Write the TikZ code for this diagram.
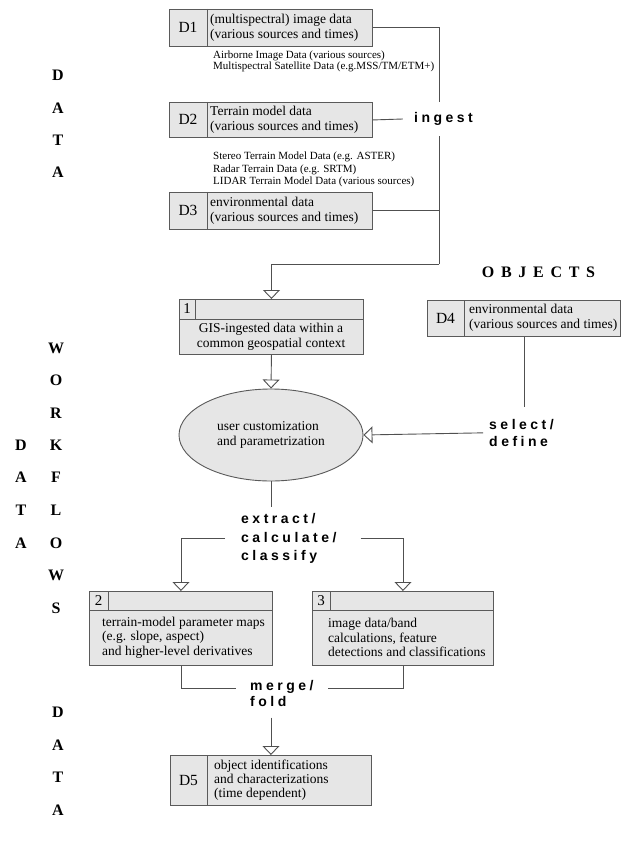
\documentclass[tikz,border=0pt]{standalone}
\usepackage{fontspec}
\setmainfont{Liberation Serif}
\newfontfamily\lsans{Liberation Sans}
\usetikzlibrary{arrows.meta,shapes.geometric}
\definecolor{linec}{HTML}{505050}
\definecolor{boxc}{HTML}{5A5A5A}
\definecolor{boxf}{HTML}{E6E6E6}
\makeatletter
\newcommand\spc[2][3.5pt]{\@tfor\spc@c:=#2\do{\spc@c\kern#1}\unkern}
\makeatother
\newcommand\fs[2]{\fontsize{#1}{#2}\selectfont}
\begin{document}
\begin{tikzpicture}[x=1pt,y=-1pt,
  ln/.style={draw=linec, line width=0.9pt},
  arr/.style={-{Triangle[width=17pt,length=9pt,fill=white]}},
  box/.style={draw=boxc, fill=boxf, line width=0.9pt, inner sep=0pt, anchor=north west},
  divl/.style={draw=boxc, line width=0.9pt},
  dl/.style={font=\fs{15.5}{18}, inner sep=0pt},
  num/.style={font=\fs{15}{18}, inner sep=0pt},
  bt/.style={font=\fs{13.5}{15}, align=left, anchor=west, inner sep=1pt},
  st/.style={font=\fs{11}{11}, align=left, anchor=west, inner sep=1pt},
  lab/.style={font=\lsans\bfseries\fs{14}{17}, align=left},
  big/.style={font=\bfseries\fs{16}{18}, inner sep=0pt}]
\useasboundingbox (0,0) rectangle (628,842);

% ---------- top DATA boxes ----------
\node[box, minimum width=203pt, minimum height=37pt] (d1) at (169,9) {};
\draw[divl] (d1.north west) ++(38,0) -- ++(0,37);
\node[dl] (d1l) at (188,27.5) {D1};
\node[bt] (d1t) at (209,27.5) {(multispectral) image data\\(various sources and times)};
\node[st] (d1s) at (212,61.5) {Airborne Image Data (various sources)\\Multispectral Satellite Data (e.g.MSS/TM/ETM+)};

\node[box, minimum width=203pt, minimum height=35pt] (d2) at (169,102) {};
\draw[divl] (d2.north west) ++(38,0) -- ++(0,35);
\node[dl] (d2l) at (188,119.5) {D2};
\node[bt] (d2t) at (209,119.5) {Terrain model data\\(various sources and times)};
\node[st, font=\fs{11}{12.5}] (d2s) at (212,169.5) {Stereo Terrain Model Data (e.g. ASTER)\\Radar Terrain Data (e.g. SRTM)\\LIDAR Terrain Model Data (various sources)};

\node[box, minimum width=203pt, minimum height=37pt] (d3) at (169,192) {};
\draw[divl] (d3.north west) ++(38,0) -- ++(0,37);
\node[dl] (d3l) at (188,210.5) {D3};
\node[bt] (d3t) at (209,210.5) {environmental data\\(various sources and times)};

% ---------- box 1 ----------
\node[box, minimum width=184pt, minimum height=55pt] (b1) at (179,299) {};
\draw[divl] (b1.north west) ++(0,20) -- ++(184,0);
\draw[divl] (b1.north west) ++(16,0) -- ++(0,20);
\node[num] (b1n) at (187,309) {1};
\node[font=\fs{13.5}{15}, align=center, inner sep=0pt] (b1t) at (271,336.5) {GIS-ingested data within a\\common geospatial context};

% ---------- D4 ----------
\node[big, font=\bfseries\fs{16}{18}] (obj) at (538.5,272) {\spc[6.7pt]{OBJECTS}};
\node[box, minimum width=193pt, minimum height=36pt] (d4) at (427,300) {};
\draw[divl] (d4.north west) ++(37,0) -- ++(0,36);
\node[dl] (d4l) at (445.5,318) {D4};
\node[bt] (d4t) at (468,318) {environmental data\\(various sources and times)};

% ---------- ellipse ----------
\node[ellipse, draw=boxc, fill=boxf, line width=0.9pt, minimum width=184pt, minimum height=92pt, inner sep=0pt,
      font=\fs{13.5}{15}, align=left] (el) at (271,435) {user customization\\and parametrization};

% ---------- boxes 2 and 3 ----------
\node[box, minimum width=183pt, minimum height=74pt] (b2) at (89,591) {};
\draw[divl] (b2.north west) ++(0,19) -- ++(183,0);
\draw[divl] (b2.north west) ++(19,0) -- ++(0,19);
\node[num] (b2n) at (98.5,600.5) {2};
\node[bt, font=\fs{13.5}{14.5}] (b2t) at (101,637.5) {terrain-model parameter maps\\(e.g. slope, aspect)\\and higher-level derivatives};

\node[box, minimum width=181pt, minimum height=74pt] (b3) at (312,591) {};
\draw[divl] (b3.north west) ++(0,19) -- ++(181,0);
\draw[divl] (b3.north west) ++(18,0) -- ++(0,19);
\node[num] (b3n) at (321,600.5) {3};
\node[bt, font=\fs{13.5}{14.5}] (b3t) at (327,637.5) {image data/band\\calculations, feature\\detections and classifications};

% ---------- D5 ----------
\node[box, minimum width=201pt, minimum height=50pt] (d5) at (170,755) {};
\draw[divl] (d5.north west) ++(37,0) -- ++(0,50);
\node[dl] (d5l) at (188.5,780) {D5};
\node[bt, font=\fs{13.5}{14}] (d5t) at (213,780) {object identifications\\and characterizations\\(time dependent)};

% ---------- connectors: ingest ----------
\coordinate (jn) at (439,264);
\draw[ln] (d1.east) -| (jn);
\draw[ln] (d3.east) -- (d3.east -| jn);
\draw[ln, arr] (jn) -| (b1.north);
\node[lab, fill=white, inner xsep=11pt, inner ysep=10.5pt] (ing) at (443.5,119) {\spc{ingest}};
\draw[ln] (d2.east) -- (ing.west);

% ---------- box1 -> ellipse ----------
\draw[ln, arr] (b1.south) -- (el.north);

% ---------- select/define ----------
\node[lab, anchor=north west, inner xsep=6pt, inner ysep=12pt] (sel) at (483,407) {\spc{select/}\\\spc{define}};
\draw[ln] (d4.south) -- (sel.north -| d4.south);
\draw[ln, arr] (sel.west) -- (el.east);

% ---------- extract ----------
\node[lab, anchor=north west, inner xsep=6pt, inner ysep=6.4pt, font=\lsans\bfseries\fs{14}{18.5}] (ext) at (235,507) {\spc{extract/}\\\spc{calculate/}\\\spc{classify}};
\draw[ln] (el.south) -- (ext.north -| el.south);
\draw[ln, arr] ([xshift=-10pt]ext.west) -| (b2.north);
\draw[ln, arr] ([xshift=18pt]ext.east) -| (b3.north);

% ---------- merge/fold ----------
\node[lab, anchor=north west, inner xsep=14pt, inner ysep=10.5pt, font=\lsans\bfseries\fs{14}{16}] (mg) at (236,670) {\spc{merge/}\\\spc{fold}};
\draw[ln] (b2.south) |- ([yshift=5pt]mg.west);
\draw[ln] (b3.south) |- ([yshift=5pt]mg.east);
\draw[ln, arr] (mg.south -| d5.north) -- (d5.north);

% ---------- side letters ----------
\foreach \ch/\yy [count=\i] in {D/75,A/108,T/140,A/172}
  \node[big] (ta\i) at (58,\yy) {\ch};
\foreach \ch/\yy [count=\i] in {W/348,O/380,R/413,K/445,F/477,L/510,O/543,W/575,S/608}
  \node[big] (wf\i) at (56,\yy) {\ch};
\foreach \ch/\yy [count=\i] in {D/445,A/477,T/510,A/543}
  \node[big] (ma\i) at (21,\yy) {\ch};
\foreach \ch/\yy [count=\i] in {D/712,A/745,T/777,A/810}
  \node[big] (ba\i) at (58,\yy) {\ch};
\end{tikzpicture}
\end{document}
